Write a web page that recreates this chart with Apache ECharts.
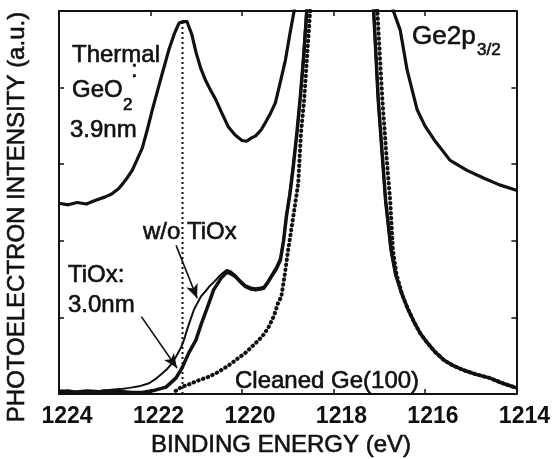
<!DOCTYPE html>
<html>
<head>
<meta charset="utf-8">
<title>Ge2p3/2 XPS spectra</title>
<script src="https://cdn.jsdelivr.net/npm/echarts@6/dist/echarts.min.js"></script>
<style>
  html, body { margin: 0; padding: 0; background: #ffffff; overflow: hidden; }
  #chart { width: 553px; height: 459px; }
</style>
</head>
<body>
<div id="chart"></div>
<script>
// Binding-energy axis (eV), drawn high-to-low
var energyTicks = [1224, 1222, 1220, 1218, 1216, 1214];

// Thermal GeO2 (3.9 nm) on Ge: [binding energy, intensity]
var thermalGeO2 = [
  [1224.0, 2.49], [1223.8, 2.47], [1223.6, 2.50], [1223.4, 2.48], [1223.2, 2.53],
  [1223.0, 2.57], [1222.85, 2.61], [1222.7, 2.68], [1222.6, 2.75], [1222.5, 2.83],
  [1222.4, 2.92], [1222.3, 3.05], [1222.18, 3.21], [1222.07, 3.45], [1221.96, 3.71],
  [1221.85, 3.95], [1221.74, 4.19], [1221.6, 4.49], [1221.48, 4.70], [1221.38, 4.84],
  [1221.3, 4.86], [1221.2, 4.86], [1221.1, 4.70], [1221.0, 4.45], [1220.9, 4.25],
  [1220.8, 4.10], [1220.68, 3.96], [1220.57, 3.84], [1220.45, 3.68], [1220.3, 3.49],
  [1220.15, 3.38], [1220.0, 3.31], [1219.9, 3.30], [1219.8, 3.34], [1219.7, 3.37],
  [1219.58, 3.45], [1219.49, 3.54], [1219.38, 3.66], [1219.27, 3.80], [1219.15, 4.10],
  [1219.05, 4.36], [1218.95, 4.71], [1218.86, 5.0], [1218.7, 5.6], [1218.4, 6.8],
  [1218.0, 7.8], [1217.7, 7.9], [1217.3, 7.0], [1216.95, 5.9], [1216.69, 5.0],
  [1216.54, 4.75], [1216.39, 4.23], [1216.17, 3.71], [1216.0, 3.50], [1215.8, 3.32],
  [1215.45, 3.05], [1215.08, 2.92], [1214.72, 2.82], [1214.37, 2.73], [1214.0, 2.66]
];

// TiOx (3.0 nm) on GeO2/Ge
var tiox30 = [
  [1224.0, 0.03], [1223.8, 0.04], [1223.6, 0.02], [1223.4, 0.03], [1223.2, 0.02],
  [1223.0, 0.04], [1222.8, 0.03], [1222.6, 0.03], [1222.4, 0.02], [1222.18, 0.02],
  [1221.9, 0.05], [1221.66, 0.09], [1221.44, 0.21], [1221.31, 0.34], [1221.16, 0.54],
  [1221.01, 0.70], [1220.88, 0.93], [1220.72, 1.19], [1220.62, 1.36], [1220.46, 1.51],
  [1220.33, 1.59], [1220.24, 1.57], [1220.14, 1.53], [1220.03, 1.46], [1219.92, 1.40],
  [1219.8, 1.37], [1219.7, 1.36], [1219.6, 1.37], [1219.53, 1.38], [1219.45, 1.44],
  [1219.36, 1.53], [1219.25, 1.63], [1219.16, 1.75], [1219.09, 2.0], [1219.03, 2.31],
  [1218.95, 2.62], [1218.88, 2.96], [1218.8, 3.4], [1218.73, 3.84], [1218.65, 4.4],
  [1218.58, 5.0], [1218.4, 6.5], [1218.1, 8.0], [1217.8, 8.5], [1217.5, 8.0],
  [1217.25, 6.2], [1217.12, 5.0], [1217.02, 3.84], [1216.93, 3.1], [1216.86, 2.53],
  [1216.74, 1.88], [1216.64, 1.56], [1216.5, 1.30], [1216.38, 1.12], [1216.23, 0.93],
  [1216.1, 0.79], [1215.95, 0.67], [1215.78, 0.55], [1215.58, 0.44], [1215.38, 0.37],
  [1215.15, 0.31], [1214.9, 0.26], [1214.59, 0.21], [1214.3, 0.14], [1214.0, 0.08]
];

// Without TiOx
var withoutTiox = [
  [1224.0, 0.05], [1223.7, 0.03], [1223.4, 0.05], [1223.1, 0.04], [1222.8, 0.06],
  [1222.6, 0.07], [1222.46, 0.08], [1222.25, 0.10], [1222.03, 0.14], [1221.88, 0.20],
  [1221.74, 0.27], [1221.63, 0.33], [1221.53, 0.40], [1221.43, 0.50], [1221.33, 0.61],
  [1221.26, 0.72], [1221.2, 0.84], [1221.12, 0.98], [1221.05, 1.10], [1220.98, 1.18],
  [1220.9, 1.27], [1220.8, 1.34], [1220.72, 1.40], [1220.6, 1.47], [1220.51, 1.53],
  [1220.42, 1.58], [1220.33, 1.62], [1220.24, 1.60], [1220.14, 1.55], [1220.03, 1.48],
  [1219.92, 1.42], [1219.8, 1.39], [1219.7, 1.38], [1219.6, 1.39], [1219.53, 1.40],
  [1219.45, 1.46], [1219.36, 1.55], [1219.25, 1.66], [1219.16, 1.78], [1219.09, 2.03],
  [1219.03, 2.34], [1218.95, 2.66], [1218.88, 3.0], [1218.8, 3.44], [1218.73, 3.88],
  [1218.66, 4.45], [1218.6, 5.0], [1218.4, 6.6], [1218.1, 8.1], [1217.8, 8.6],
  [1217.5, 8.1], [1217.25, 6.3], [1217.13, 5.0], [1217.03, 3.84], [1216.94, 3.1],
  [1216.87, 2.53], [1216.75, 1.88], [1216.65, 1.56], [1216.51, 1.30], [1216.38, 1.12],
  [1216.23, 0.93], [1216.1, 0.79], [1215.95, 0.67], [1215.78, 0.55], [1215.58, 0.44],
  [1215.38, 0.37], [1215.15, 0.31], [1214.9, 0.26], [1214.59, 0.21], [1214.3, 0.14],
  [1214.0, 0.08]
];

// Cleaned Ge(100)
var cleanedGe100 = [
  [1221.45, 0.04], [1221.33, 0.09], [1221.14, 0.13], [1220.94, 0.18], [1220.75, 0.22],
  [1220.57, 0.27], [1220.4, 0.33], [1220.23, 0.40], [1220.08, 0.47], [1219.92, 0.54],
  [1219.78, 0.62], [1219.64, 0.70], [1219.52, 0.78], [1219.42, 0.87], [1219.3, 1.02],
  [1219.21, 1.19], [1219.14, 1.27], [1219.06, 1.58], [1218.99, 1.88], [1218.88, 2.31],
  [1218.77, 2.75], [1218.71, 3.41], [1218.64, 3.84], [1218.51, 5.0], [1218.3, 6.8],
  [1218.0, 8.5], [1217.7, 8.6], [1217.4, 7.0], [1217.15, 5.4], [1217.04, 5.0],
  [1216.93, 3.84], [1216.84, 3.1], [1216.76, 2.53], [1216.7, 1.88], [1216.62, 1.56],
  [1216.5, 1.30], [1216.38, 1.12], [1216.23, 0.93], [1216.1, 0.79], [1215.95, 0.67],
  [1215.78, 0.55], [1215.58, 0.44], [1215.38, 0.37], [1215.15, 0.31], [1214.9, 0.26],
  [1214.59, 0.21], [1214.3, 0.14], [1214.0, 0.08]
];

// Vertical guide at the GeO2 peak position
var guideEnergy = 1221.3;
var guideTop = 4.86;

var INK = '#111111';
var TEXT_FONT = '"Liberation Sans", Arial, sans-serif';

var chart = echarts.init(document.getElementById('chart'), null, { renderer: 'canvas' });

function frameAxis(extra) {
  var base = {
    type: 'value',
    axisLine: { show: true, onZero: false, lineStyle: { color: INK, width: 2 } },
    axisTick: { show: true, inside: true, length: 5, lineStyle: { color: INK, width: 1.5 } },
    axisLabel: { show: false },
    splitLine: { show: false }
  };
  return Object.assign(base, extra);
}

function lineSeries(data, style, z) {
  return {
    type: 'line',
    data: data,
    showSymbol: false,
    symbol: 'none',
    smooth: false,
    clip: true,
    z: z || 2,
    lineStyle: Object.assign({ color: INK, join: 'round' }, style)
  };
}

// Text with a hairline outline so the glyphs read a little heavier
function label(text, x, y, size, extra) {
  return {
    type: 'text',
    x: x, y: y,
    style: Object.assign({
      text: text,
      font: 'normal ' + size + 'px ' + TEXT_FONT,
      fill: INK,
      stroke: INK,
      lineWidth: 0.6,
      textAlign: 'left',
      textVerticalAlign: 'middle'
    }, extra || {})
  };
}

var option = {
  animation: false,
  backgroundColor: '#ffffff',
  grid: { left: 59, right: 33, top: 11, bottom: 65, containLabel: false },
  xAxis: [
    frameAxis({
      position: 'bottom',
      min: energyTicks[energyTicks.length - 1],
      max: energyTicks[0],
      interval: 2,
      inverse: true,
      axisLabel: {
        show: true, color: INK, fontFamily: TEXT_FONT, fontSize: 23, fontWeight: 'bold',
        margin: 11, padding: [0, 0, 0, 16],
        formatter: function (v) { return String(v); }
      }
    }),
    frameAxis({
      position: 'top',
      min: energyTicks[energyTicks.length - 1],
      max: energyTicks[0],
      interval: 2,
      inverse: true
    })
  ],
  yAxis: [
    frameAxis({ position: 'left', min: 0, max: 5, interval: 1 }),
    frameAxis({ position: 'right', min: 0, max: 5, interval: 1 })
  ],
  series: [
    lineSeries(thermalGeO2, { width: 3.2 }, 3),
    lineSeries(tiox30, { width: 3.5 }, 3),
    lineSeries(withoutTiox, { width: 2 }, 4),
    lineSeries(cleanedGe100, { width: 4, type: [0.5, 4.5], cap: 'round' }, 2),
    {
      type: 'line',
      data: [[guideEnergy, 0], [guideEnergy, guideTop]],
      showSymbol: false,
      symbol: 'none',
      z: 1,
      lineStyle: { color: INK, width: 2, type: [2, 3] },
      markLine: {
        silent: true,
        symbol: ['none', 'arrow'],
        symbolSize: [9, 14],
        label: { show: false },
        lineStyle: { color: INK, width: 1.6, type: 'solid' },
        data: [
          [{ coord: [1221.44, 1.94] }, { coord: [1220.98, 1.25] }],
          [{ coord: [1222.2, 1.01] }, { coord: [1221.42, 0.34] }]
        ]
      }
    }
  ],
  graphic: [
    // axis titles
    label('BINDING ENERGY (eV)', 281, 445, 24, { textAlign: 'center' }),
    {
      type: 'text',
      x: 17, y: 217,
      rotation: Math.PI / 2,
      style: {
        text: 'PHOTOELECTRON INTENSITY (a.u.)',
        font: 'normal 24px ' + TEXT_FONT,
        fill: INK,
        stroke: INK,
        lineWidth: 0.6,
        textAlign: 'center',
        textVerticalAlign: 'middle'
      }
    },
    // curve annotations
    label('Thermal', 72, 55, 24),
    label('GeO', 72, 90, 24),
    label('2', 123, 105, 17),
    label(':', 131, 70, 24),
    label('3.9nm', 70, 130, 24),
    label('w/o TiOx', 143, 232, 24),
    label('TiOx:', 68, 275, 24),
    label('3.0nm', 68, 305, 24),
    label('Cleaned Ge(100)', 235, 381, 24),
    label('Ge2p', 412, 37, 26),
    label('3/2', 477, 50, 17)
  ]
};

chart.setOption(option);
</script>
</body>
</html>
